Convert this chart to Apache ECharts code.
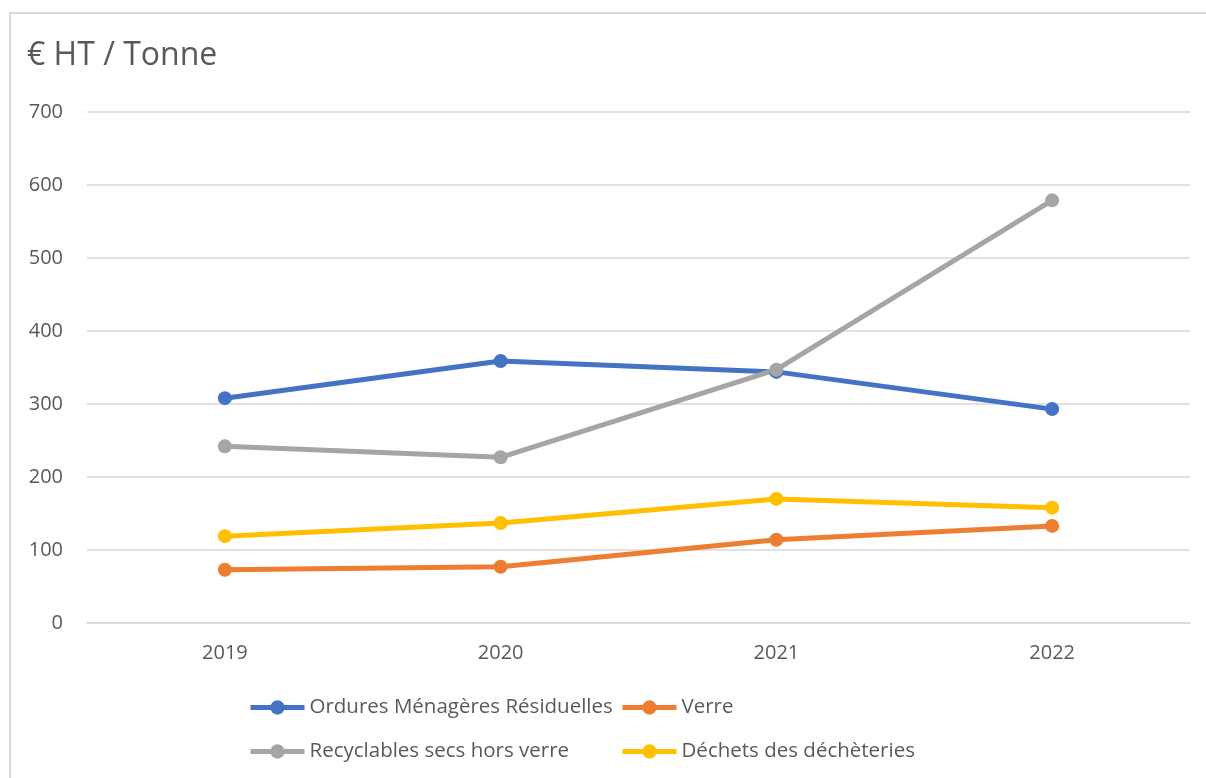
<!DOCTYPE html>
<html>
<head>
<meta charset="utf-8">
<script src="https://cdn.jsdelivr.net/npm/echarts@6/dist/echarts.min.js"></script>
<style>
  html, body { margin: 0; padding: 0; overflow: hidden; background: #fff; }
  #frame { position: absolute; left: 9px; top: 12px; width: 1300px; height: 900px; border: 2px solid #d9d9d9; }
  #chart { position: absolute; left: 0; top: 0; width: 1206px; height: 778px; }
</style>
</head>
<body>
<div id="frame"></div>
<div id="chart"></div>
<script>
// données
var years = ['2019', '2020', '2021', '2022']
var ordures = [308, 359, 344, 293]
var verre = [73, 77, 114, 133]
var recyclables = [242, 227, 347, 579]
var decheteries = [119, 137, 170, 158]

var textColor = '#595959'
var font = 'Open Sans'

function lineSerie(name, data, color) {
  return {
    name: name,
    type: 'line',
    data: data,
    color: color,
    symbol: 'circle',
    symbolSize: 14,
    lineStyle: { width: 5, color: color },
    itemStyle: { color: color },
    animation: false
  }
}

var legendBase = {
  orient: 'vertical',
  top: 692,
  itemWidth: 54,
  itemHeight: 18,
  itemGap: 23,
  lineStyle: { width: 5 },
  textStyle: { color: textColor, fontSize: 20.5, fontFamily: font }
}

var chart = echarts.init(document.getElementById('chart'))
chart.setOption({
  title: {
    text: '€ HT / Tonne',
    left: 22,
    top: 35,
    textStyle: { color: textColor, fontSize: 32, fontWeight: 'normal', fontFamily: font }
  },
  legend: [
    Object.assign({}, legendBase, { left: 243, data: ['Ordures Ménagères Résiduelles', 'Recyclables secs hors verre'] }),
    Object.assign({}, legendBase, { left: 615, data: ['Verre', 'Déchets des déchèteries'] })
  ],
  grid: {
    left: 87,
    right: 16,
    top: 112,
    bottom: 155
  },
  xAxis: {
    type: 'category',
    data: years,
    boundaryGap: true,
    axisLine: { lineStyle: { color: '#d9d9d9', width: 1.5 } },
    axisTick: { show: false },
    axisLabel: { color: textColor, fontSize: 20, fontFamily: font, margin: 20 }
  },
  yAxis: {
    type: 'value',
    min: 0,
    max: 700,
    interval: 100,
    axisLine: { show: false },
    axisTick: { show: false },
    splitLine: { lineStyle: { color: '#d9d9d9', width: 1.5 } },
    axisLabel: { color: textColor, fontSize: 20, fontFamily: font, margin: 24 }
  },
  series: [
    lineSerie('Ordures Ménagères Résiduelles', ordures, '#4472C4'),
    lineSerie('Verre', verre, '#ED7D31'),
    lineSerie('Recyclables secs hors verre', recyclables, '#A5A5A5'),
    lineSerie('Déchets des déchèteries', decheteries, '#FFC000')
  ]
})
</script>
</body>
</html>
